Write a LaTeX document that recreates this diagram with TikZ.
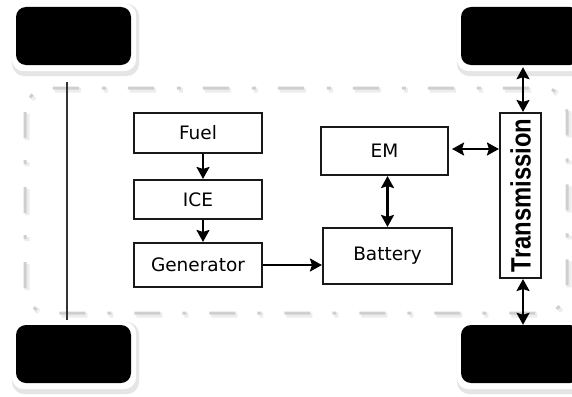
\documentclass[tikz,border=0pt]{standalone}
\usepackage{fontspec}
\newfontfamily\boxfont{DejaVu Sans}
\newfontfamily\transfont{Liberation Sans}
\usetikzlibrary{arrows.meta,backgrounds,calc}
\begin{document}
\begin{tikzpicture}[x=1pt,y=-1pt,
 blk/.style={draw=black!90, line width=2.1pt, fill=white, inner sep=0pt, font=\boxfont\fontsize{18.5}{20}\selectfont},
 wheel/.style={fill=black, rounded corners=10pt, minimum width=115pt, minimum height=58pt, inner sep=0pt},
 halo/.style={fill=gray!20, rounded corners=13pt},
 innerhalo/.style={fill=white, rounded corners=12pt},
 arr/.style={line width=2.1pt, -{Stealth[length=12pt,width=13pt,inset=2pt]}},
 darr/.style={line width=2.1pt, {Stealth[length=12pt,width=13pt,inset=2pt]}-{Stealth[length=12pt,width=13pt,inset=2pt]}},
 outlinebox/.style={draw=gray!38, line width=3pt, rounded corners=24pt, dash pattern=on 26pt off 22pt on 4pt off 23pt}
]
\clip (0,0) rectangle (572,396);
% wheels
\node[wheel] (wTL) at (73.5,36) {};
\node[wheel] (wBL) at (73.5,354) {};
\node[wheel, minimum width=119pt] (wTR) at (520.5,36) {};
\node[wheel, minimum width=119pt] (wBR) at (520.5,354) {};
% blocks
\node[blk, minimum width=128pt, minimum height=40pt] (fuel) at (198,133) {Fuel};
\node[blk, minimum width=128pt, minimum height=39pt] (ice) at (198,199.5) {ICE};
\node[blk, minimum width=128pt, minimum height=44pt] (gen) at (198,265) {Generator};
\node[blk, minimum width=129pt, minimum height=56pt] (bat) at (387.5,256) {\raisebox{4pt}{Battery}};
\node[blk, minimum width=127pt, minimum height=48pt] (em) at (384.5,151) {EM};
\node[blk, rotate=90, minimum width=165pt, minimum height=41pt] (trans) at (520.5,195.5)
   {\scalebox{0.85}[1]{\transfont\bfseries\fontsize{28}{30}\selectfont Transmission}};
% connectors
\draw[arr] ([xshift=5pt]fuel.south) -- ([xshift=5pt]ice.north);
\draw[arr] ([xshift=5pt]ice.south) -- ([xshift=5pt]gen.north);
\draw[arr] (gen.east) -- (gen.east -| bat.west);
\draw[darr] (bat.north) -- (bat.north |- em.south);
\draw[darr, shorten <=3pt] ([yshift=2pt]em.east) -- ([yshift=2pt]em.east -| trans.north);
\draw[darr, shorten <=2pt] ([xshift=2.5pt]wTR.south) -- ([xshift=2.5pt]wTR.south |- trans.east);
\draw[darr] ([xshift=2.5pt]trans.west -| wBR.north) -- ([xshift=2.5pt]wBR.north);
\draw[line width=1.4pt, black!80, shorten <=17pt, shorten >=5pt] ([xshift=-6.5pt]wTL.south) -- ([xshift=-6.5pt]wBL.north);
\begin{scope}[on background layer]
\fill[white] (0,0) rectangle (572,396);
\foreach \w in {wTL,wBL,wTR,wBR}{
  \fill[halo] ([shift={(-4,11)}]\w.south west) rectangle ([shift={(8,-3)}]\w.north east);
  \fill[innerhalo] ([shift={(-4,6)}]\w.south west) rectangle ([shift={(5,-3)}]\w.north east);
}
\draw[gray!14, line width=5pt, rounded corners=24pt, dash pattern=on 26pt off 22pt on 4pt off 23pt] (27,90) rectangle (569,315);
\draw[outlinebox] (25,88) rectangle (567,313);
\end{scope}
\end{tikzpicture}
\end{document}
